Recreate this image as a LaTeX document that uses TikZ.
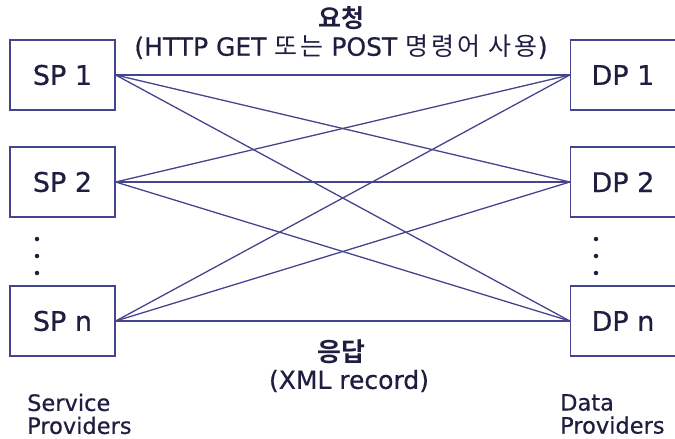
\documentclass[tikz,border=0pt]{standalone}
\usepackage{fontspec}
\setmainfont{DejaVu Sans}[FakeBold=0.6]
\newfontfamily\semib{DejaVu Sans}[FakeBold=0.6]
\newfontfamily\kr{Noto Sans CJK KR}[LetterSpace=12]
\newfontfamily\krb{Noto Sans CJK KR Bold}
\definecolor{linecol}{HTML}{45458F}
\definecolor{txtcol}{HTML}{1E1E40}
\begin{document}
\begin{tikzpicture}[x=1pt,y=-1pt,
  every node/.style={text=txtcol},
  prov/.style={draw=linecol,line width=1.4pt,minimum width=105pt,minimum height=70pt,inner sep=0pt,font=\semib\fontsize{27}{30}\selectfont},
  conn/.style={draw=linecol,line width=1.3pt},
  dotmark/.style={circle,fill=txtcol,inner sep=0pt,minimum size=4.5pt},
  lbl/.style={font=\semib\fontsize{22.5}{24}\selectfont,align=left,anchor=west,inner sep=0pt}]
\useasboundingbox (0,0) rectangle (675,439);
\node[prov] (sp1) at (62.5,75) {SP 1};
\node[prov] (sp2) at (62.5,182) {SP 2};
\node[prov] (spn) at (62.5,321) {SP n};
\node[prov] (dp1) at (623,75) {DP 1};
\node[prov] (dp2) at (623,182) {DP 2};
\node[prov] (dpn) at (623,321) {DP n};
\foreach \s in {sp1,sp2,spn}{
  \foreach \d in {dp1,dp2,dpn}{
    \draw[conn] (\s.east) -- (\d.west);
  }
}
\node[dotmark] (l1) at (37,239) {};
\node[dotmark] (l2) at (37,256) {};
\node[dotmark] (l3) at (37,273) {};
\node[dotmark] (r1) at (596,239) {};
\node[dotmark] (r2) at (596,256) {};
\node[dotmark] (r3) at (596,273) {};
\node[font=\krb\fontsize{25}{28}\selectfont] (req) at (341,18) {요청};
\node[font=\semib\fontsize{25}{28}\selectfont] (reqsub) at (341,47) {(HTTP GET {\kr 또는} POST {\kr 명령어 사용})};
\node[font=\krb\fontsize{26}{28}\selectfont] (resp) at (341,352) {응답};
\node[font=\semib\fontsize{25}{28}\selectfont] (respsub) at (349,381) {(XML record)};
\node[lbl] (svc) at (27,414) {Service\\[-1pt]Providers};
\node[lbl] (dat) at (560,414) {Data\\[-1pt]Providers};
\end{tikzpicture}
\end{document}
